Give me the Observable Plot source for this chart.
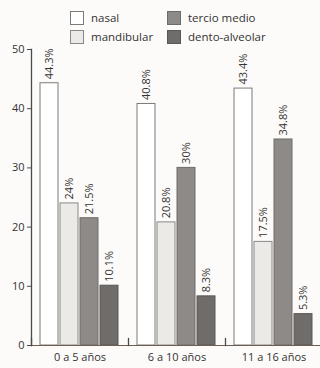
<!DOCTYPE html>
<html>
<head>
<meta charset="utf-8">
<script src="https://cdn.jsdelivr.net/npm/d3@7"></script>
<script src="https://cdn.jsdelivr.net/npm/@observablehq/plot@0.6"></script>
<style>
  html, body { margin: 0; padding: 0; background: #fcfbf9; }
  #wrap { position: relative; width: 320px; height: 368px; font-family: "Open Sans", sans-serif; color: #333; }
  #legend { position: absolute; left: 70px; top: 10px; display: grid; grid-template-columns: 97px 140px; row-gap: 4px; font-size: 11.5px; }
  .item { display: flex; align-items: center; height: 15px; }
  .sw { width: 14px; height: 14px; box-sizing: border-box; border: 1px solid #7a7876; margin-right: 7px; }
  #chart { position: absolute; left: 0; top: 0; }
</style>
</head>
<body>
<div id="wrap">
  <div id="chart"></div>
  <div id="legend"></div>
</div>
<script>
// Age groups (x facets)
const groups = ["0 a 5 años", "6 a 10 años", "11 a 16 años"];
// Fracture types (bars within each group)
const series = ["nasal", "mandibular", "tercio medio", "dento-alveolar"];
// Percentages per fracture type, one value per age group
const nasal = [44.3, 40.8, 43.4];
const mandibular = [24, 20.8, 17.5];
const tercioMedio = [21.5, 30, 34.8];
const dentoAlveolar = [10.1, 8.3, 5.3];
// Text shown above each bar
const labelsNasal = ["44.3%", "40.8%", "43.4%"];
const labelsMandibular = ["24%", "20.8%", "17.5%"];
const labelsTercio = ["21.5%", "30%", "34.8%"];
const labelsDento = ["10.1%", "8.3%", "5.3%"];
// Y axis ticks
const yTicks = [0, 10, 20, 30, 40, 50];

const fills = ["#ffffff", "#ebeae7", "#8d8a87", "#6f6c69"];
const strokes = ["#7d7b79", "#8a8886", "#6e6b68", "#5a5754"];

const values = [nasal, mandibular, tercioMedio, dentoAlveolar];
const labels = [labelsNasal, labelsMandibular, labelsTercio, labelsDento];
const rows = [];
groups.forEach((g, gi) => {
  series.forEach((s, si) => {
    rows.push({group: g, type: s, value: values[si][gi], label: labels[si][gi]});
  });
});

const chart = Plot.plot({
  width: 320,
  height: 368,
  marginLeft: 30,
  marginRight: -3,
  marginTop: 49,
  marginBottom: 23,
  style: {fontFamily: "Open Sans, sans-serif", fontSize: "11px", color: "#333", background: "transparent"},
  fx: {domain: groups, paddingInner: 0, paddingOuter: 0, label: null},
  x: {domain: series, paddingInner: 0.08, paddingOuter: 0.42, axis: null},
  y: {domain: [0, 50], axis: null},
  color: {domain: series, range: fills},
  marks: [
    Plot.barY(rows, {
      fx: "group", x: "type", y: "value",
      fill: "type",
      stroke: d => strokes[series.indexOf(d.type)],
      strokeWidth: 1
    }),
    Plot.text(rows, {
      fx: "group", x: "type", y: "value", text: "label",
      rotate: -90, textAnchor: "start", dy: -4,
      fill: "#333", fontSize: 11
    }),
    // baseline
    Plot.ruleY([0], {stroke: "#6b5e55", strokeWidth: 1.2}),
    // vertical y axis line (first facet only)
    Plot.frame({anchor: "left", facetAnchor: "left", stroke: "#4a4a4a", strokeWidth: 1.3}),
    // short separators between age groups
    Plot.frame({anchor: "left", insetTop: 289, stroke: "#4a4a4a", strokeWidth: 1.3}),
    Plot.axisY({ticks: yTicks, tickSize: 4, tickPadding: 3, label: null, stroke: "#4a4a4a", fill: "#333", fontSize: 11}),
    Plot.axisFx({anchor: "bottom", tickSize: 0, tickPadding: 8, label: null, fontSize: 11})
  ]
});
document.getElementById("chart").appendChild(chart);

// Legend, two columns
const legend = document.getElementById("legend");
const order = [0, 2, 1, 3];
order.forEach(i => {
  const item = document.createElement("div");
  item.className = "item";
  const sw = document.createElement("span");
  sw.className = "sw";
  sw.style.background = fills[i];
  sw.style.borderColor = strokes[i];
  const t = document.createElement("span");
  t.textContent = series[i];
  item.appendChild(sw);
  item.appendChild(t);
  legend.appendChild(item);
});
</script>
</body>
</html>
